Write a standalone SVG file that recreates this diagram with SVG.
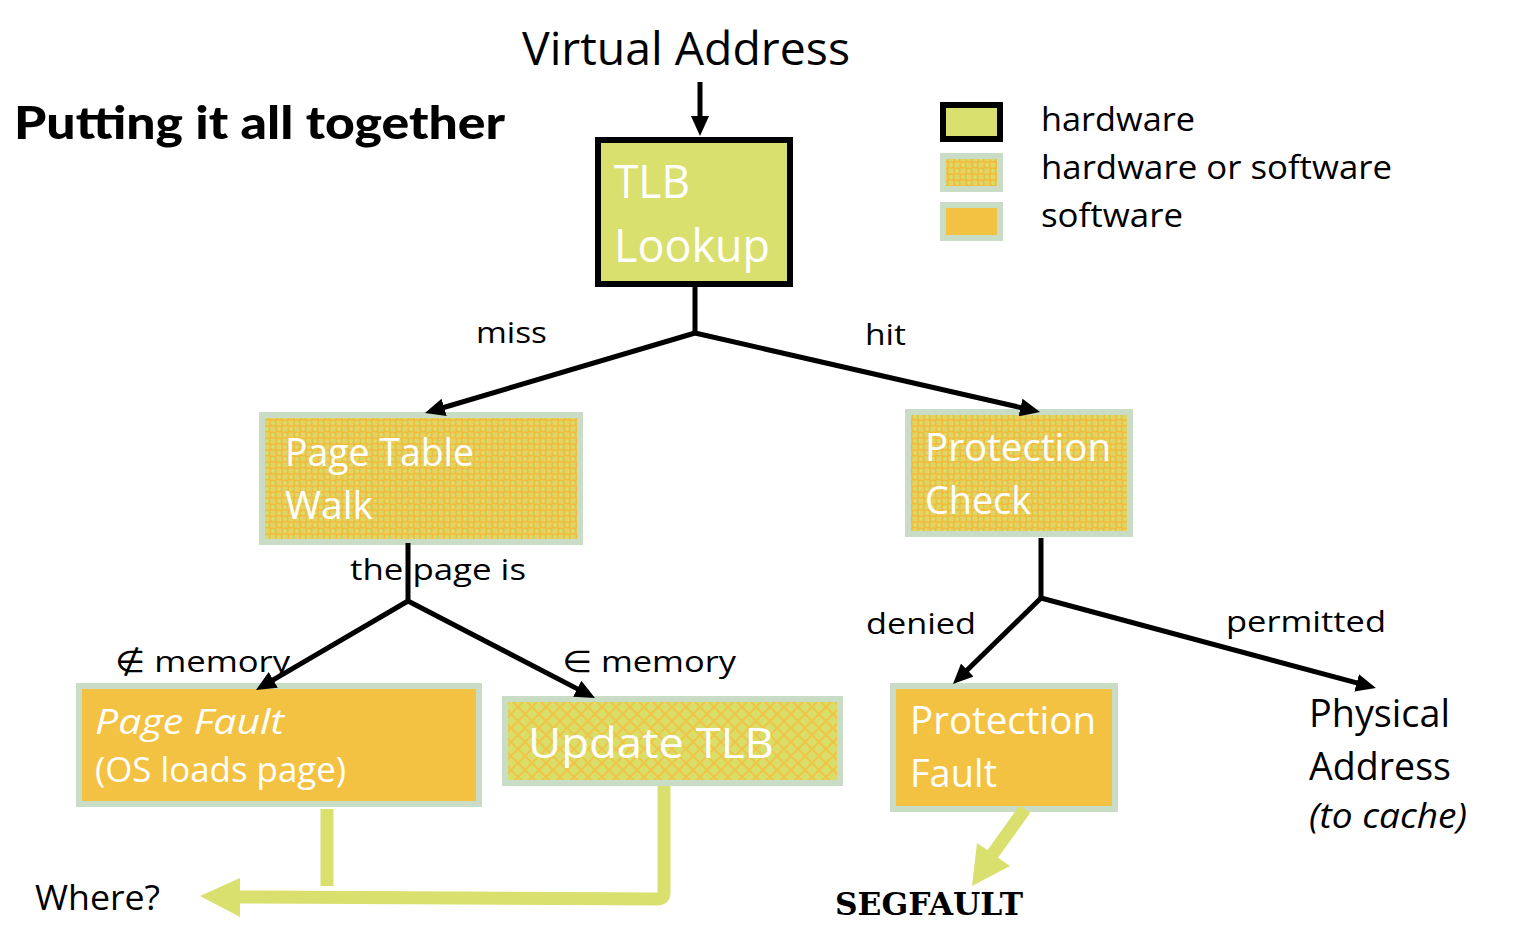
<svg xmlns="http://www.w3.org/2000/svg" width="1524" height="948" viewBox="0 0 1524 948">
<style>
.t{font-family:"Open Sans","Noto Sans","DejaVu Sans",sans-serif;fill:#000}
.w{font-family:"Open Sans","Noto Sans","DejaVu Sans",sans-serif;fill:#fff}
.lbl{font-size:30px}
.box{stroke:#C8DCC6;stroke-width:6}
.conn{stroke:#000;stroke-width:5;fill:none}
.yg{stroke:#D9E06E;fill:none;stroke-width:13}
</style>
<defs>
<marker id="ah" markerUnits="userSpaceOnUse" markerWidth="20" markerHeight="18" refX="4" refY="9" orient="auto">
<path d="M0,0 L20,9 L0,18 z" fill="#000"/>
</marker>
<pattern id="chk" patternUnits="userSpaceOnUse" width="12" height="12">
<rect width="12" height="12" fill="#F5B93A"/>
<rect x="0.5" y="0.5" width="5" height="5" fill="#DDD565"/>
<rect x="6.5" y="6.5" width="5" height="5" fill="#DDD565"/>
<circle cx="9" cy="3" r="2.2" fill="#D8DC6A"/>
<circle cx="3" cy="9" r="2.2" fill="#D8DC6A"/>
</pattern>
<pattern id="weave" patternUnits="userSpaceOnUse" width="14" height="14">
<rect width="14" height="14" fill="#D9DE68"/>
<path d="M0,7 L7,0 M7,14 L14,7 M0,7 L7,14 M7,0 L14,7" stroke="#EFC548" stroke-width="2" fill="none"/>
</pattern>
</defs>

<text class="t" x="14" y="139" font-size="46" font-weight="900" style="font-family:Lato,'Liberation Sans',sans-serif" textLength="491" lengthAdjust="spacingAndGlyphs">Putting it all together</text>
<text class="t" x="522" y="65" font-size="46" textLength="328" lengthAdjust="spacingAndGlyphs">Virtual Address</text>

<g id="legend">
<rect x="943" y="105" width="57" height="34" fill="#D9E06E" stroke="#000" stroke-width="6"/>
<rect x="943" y="156" width="57" height="33" fill="url(#chk)" class="box"/>
<rect x="943" y="205" width="57" height="33" fill="#F4C242" class="box"/>
<text class="t" x="1041" y="131" font-size="32" textLength="154" lengthAdjust="spacingAndGlyphs">hardware</text>
<text class="t" x="1041" y="179" font-size="32" textLength="351" lengthAdjust="spacingAndGlyphs">hardware or software</text>
<text class="t" x="1041" y="227" font-size="32" textLength="142" lengthAdjust="spacingAndGlyphs">software</text>
</g>

<g id="tlb">
<rect x="598" y="140" width="192" height="144" fill="#D9E06E" stroke="#000" stroke-width="6"/>
<text class="w" x="614" y="198" font-size="46" textLength="76" lengthAdjust="spacingAndGlyphs">TLB</text>
<text class="w" x="614" y="262" font-size="46" textLength="156" lengthAdjust="spacingAndGlyphs">Lookup</text>
</g>

<g id="ptw">
<rect x="262" y="415" width="318" height="127" fill="url(#chk)" class="box"/>
<text class="w" x="285" y="466" font-size="39" textLength="189" lengthAdjust="spacingAndGlyphs">Page Table</text>
<text class="w" x="285" y="519" font-size="39" textLength="88" lengthAdjust="spacingAndGlyphs">Walk</text>
</g>

<g id="pcheck">
<rect x="908" y="412" width="222" height="122" fill="url(#chk)" class="box"/>
<text class="w" x="925" y="461" font-size="38" textLength="186" lengthAdjust="spacingAndGlyphs">Protection</text>
<text class="w" x="925" y="514" font-size="38" textLength="106" lengthAdjust="spacingAndGlyphs">Check</text>
</g>

<g id="pfault">
<rect x="79" y="686" width="400" height="118" fill="#F4C242" class="box"/>
<text class="w" x="95" y="734" font-size="35" font-style="italic" textLength="189" lengthAdjust="spacingAndGlyphs">Page Fault</text>
<text class="w" x="95" y="782" font-size="34" textLength="251" lengthAdjust="spacingAndGlyphs">(OS loads page)</text>
</g>

<g id="utlb">
<rect x="505" y="699" width="335" height="84" fill="url(#weave)" class="box"/>
<text class="w" x="528" y="758" font-size="42" textLength="246" lengthAdjust="spacingAndGlyphs">Update TLB</text>
</g>

<g id="prfault">
<rect x="893" y="686" width="222" height="123" fill="#F4C242" class="box"/>
<text class="w" x="910" y="734" font-size="38" textLength="186" lengthAdjust="spacingAndGlyphs">Protection</text>
<text class="w" x="910" y="787" font-size="38" textLength="87" lengthAdjust="spacingAndGlyphs">Fault</text>
</g>

<g id="phys">
<text class="t" x="1309" y="727" font-size="38" textLength="141" lengthAdjust="spacingAndGlyphs">Physical</text>
<text class="t" x="1309" y="780" font-size="38" textLength="142" lengthAdjust="spacingAndGlyphs">Address</text>
<text class="t" x="1309" y="828" font-size="34" font-style="italic" textLength="158" lengthAdjust="spacingAndGlyphs">(to cache)</text>
</g>

<g id="where">
<text class="t" x="35" y="910" font-size="34" textLength="125" lengthAdjust="spacingAndGlyphs">Where?</text>
</g>
<g id="segfault">
<text x="835" y="915" font-size="32" font-weight="bold" style="font-family:'DejaVu Serif','Liberation Serif',serif" textLength="188" lengthAdjust="spacingAndGlyphs">SEGFAULT</text>
</g>

<g id="connectors">
<path class="conn" d="M700,82 L700,120" marker-end="url(#ah)"/>
<path class="conn" d="M695,287 L695,333"/>
<path class="conn" d="M695,333 L440.3,408.5" marker-end="url(#ah)"/>
<path class="conn" d="M695,333 L1024.4,408.4" marker-end="url(#ah)"/>
<path class="conn" d="M408,543 L408,601"/>
<path class="conn" d="M408,601 L269.8,681.9" marker-end="url(#ah)"/>
<path class="conn" d="M408,601 L580.8,690.6" marker-end="url(#ah)"/>
<path class="conn" d="M1041,538 L1041,598"/>
<path class="conn" d="M1041,598 L964.4,672.8" marker-end="url(#ah)"/>
<path class="conn" d="M1041,598 L1360.5,683.9" marker-end="url(#ah)"/>
<path class="yg" d="M327,809 L327,886"/>
<path class="yg" d="M664,786 L664,893 Q664,899 657,899 L236,897" stroke-linejoin="round"/>
<polygon points="240,878 240,917 200,896" fill="#D9E06E"/>
<path class="yg" d="M1025,809 L992,855"/>
<polygon points="977,843 1010,866 972,886" fill="#D9E06E"/>
<text class="t lbl" x="476" y="343" textLength="71" lengthAdjust="spacingAndGlyphs">miss</text>
<text class="t lbl" x="865" y="345" textLength="41" lengthAdjust="spacingAndGlyphs">hit</text>
<text class="t lbl" x="350" y="580" textLength="176" lengthAdjust="spacingAndGlyphs">the page is</text>
<text class="t lbl" x="115" y="672" textLength="175" lengthAdjust="spacingAndGlyphs">∉ memory</text>
<text class="t lbl" x="562" y="672" textLength="174" lengthAdjust="spacingAndGlyphs">∈ memory</text>
<text class="t lbl" x="866" y="634" textLength="110" lengthAdjust="spacingAndGlyphs">denied</text>
<text class="t lbl" x="1226" y="632" textLength="160" lengthAdjust="spacingAndGlyphs">permitted</text>
</g>
</svg>
